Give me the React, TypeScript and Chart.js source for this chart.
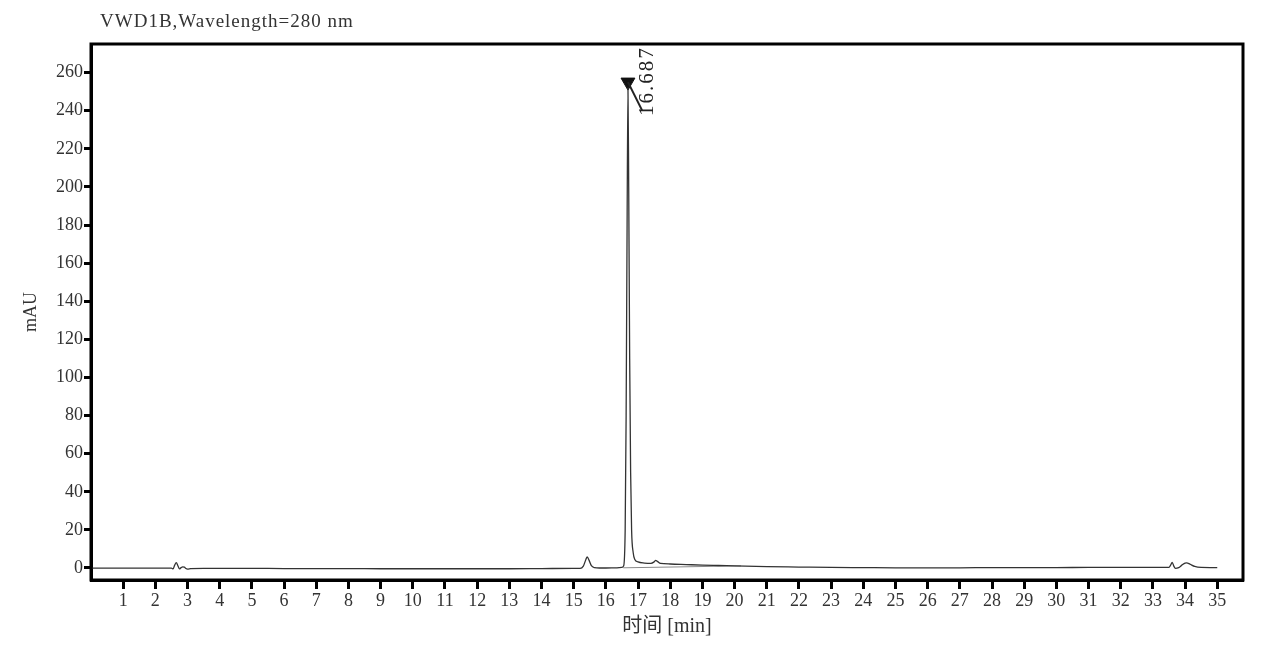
import { useEffect, useRef } from 'react';
import { Chart, registerables } from 'chart.js';

Chart.register(...registerables);

// retention time [min]
const times = [
  0, 0.5, 1, 1.5, 2, 2.5, 2.55, 2.6, 2.65, 2.7, 2.75, 2.8, 2.85, 2.9, 2.95, 3.0, 3.1, 3.5,
  4, 5, 6, 7, 8, 9, 10, 11, 12, 13, 14, 15, 15.2, 15.3, 15.38, 15.42, 15.48, 15.55, 15.65, 15.8,
  16.0, 16.3, 16.5, 16.55, 16.6, 16.63, 16.66, 16.687, 16.71, 16.74, 16.77, 16.8, 16.85, 16.9,
  17.0, 17.2, 17.4, 17.5, 17.55, 17.6, 17.7, 18.0, 18.5, 19.0, 19.5, 20, 21, 22, 23, 24, 25,
  26, 27, 28, 29, 30, 31, 32, 33, 33.5, 33.55, 33.6, 33.65, 33.7, 33.8, 33.9, 34.0, 34.05,
  34.15, 34.3, 34.5, 35.0,
];
// detector signal [mAU]
const signal = [
  -0.1, -0.1, -0.1, -0.1, -0.1, -0.1, -0.5, 1.5, 2.8, 1.2, -0.5, 0.2, 0.6, 0.5, -0.3, -0.6, -0.3, -0.2,
  -0.2, -0.2, -0.3, -0.3, -0.3, -0.4, -0.4, -0.4, -0.4, -0.4, -0.3, -0.2, -0.2, 1.0, 4.5, 5.8, 4.0, 1.2, 0.2, 0.0,
  0.0, 0.1, 0.3, 1.0, 20, 80, 180, 252, 200, 110, 50, 20, 8, 4.5,
  3.2, 2.6, 2.4, 3.2, 4.0, 3.5, 2.4, 2.1, 1.8, 1.5, 1.3, 1.1, 0.7, 0.5, 0.3, 0.2, 0.1,
  0.1, 0.1, 0.2, 0.2, 0.2, 0.3, 0.3, 0.3, 0.3, 1.5, 3.0, 1.0, -0.2, 0.2, 1.5, 2.6, 2.7,
  2.0, 0.8, 0.3, 0.2,
];
// integration baseline under main peak
const baseTimes = [16.54, 20.2];
const baseValues = [0.1, 1.1];

const peakTime = 16.687;
const peakMarker = 255;
const peakLabel = '16.687';

const xTicks = Array.from({ length: 35 }, (_, i) => i + 1);
const yTicks = [0, 20, 40, 60, 80, 100, 120, 140, 160, 180, 200, 220, 240, 260];

const serif = "'Liberation Serif', 'Noto Sans CJK SC', serif";

const decorPlugin = {
  id: 'decor',
  afterDraw(chart: any) {
    const { ctx, chartArea, scales } = chart;
    ctx.save();
    // frame
    ctx.strokeStyle = '#000';
    ctx.lineWidth = 3;
    ctx.strokeRect(chartArea.left, chartArea.top, chartArea.right - chartArea.left, chartArea.bottom - chartArea.top);
    // title
    ctx.fillStyle = '#333';
    ctx.font = `19px ${serif}`;
    (ctx as any).letterSpacing = '1px';
    ctx.textBaseline = 'middle';
    ctx.textAlign = 'left';
    ctx.fillText('VWD1B,Wavelength=280 nm', 100, 22);
    // peak label
    const px = scales.x.getPixelForValue(peakTime);
    const py = scales.y.getPixelForValue(peakMarker);
    ctx.strokeStyle = '#222';
    ctx.lineWidth = 2;
    ctx.beginPath();
    ctx.moveTo(px, py);
    ctx.lineTo(px + 14, py + 28);
    ctx.stroke();
    ctx.translate(px + 20, py + 34);
    ctx.rotate(-Math.PI / 2);
    ctx.font = `21px ${serif}`;
    (ctx as any).letterSpacing = '2px';
    ctx.textAlign = 'left';
    ctx.textBaseline = 'middle';
    ctx.fillStyle = '#222';
    ctx.fillText(peakLabel, 0, 0);
    ctx.restore();
  },
};

export default function App() {
  const canvasRef = useRef<HTMLCanvasElement>(null);
  const chartRef = useRef<Chart | null>(null);

  useEffect(() => {
    document.body.style.margin = '0';
    if (!canvasRef.current) return;
    if (chartRef.current) chartRef.current.destroy();

    const tickFont = { family: serif, size: 18 };
    chartRef.current = new Chart(canvasRef.current, {
      type: 'line',
      data: {
        datasets: [
          {
            data: times.map((t, i) => ({ x: t, y: signal[i] })),
            borderColor: '#333',
            borderWidth: 1.3,
            pointRadius: 0,
            cubicInterpolationMode: 'monotone',
          },
          {
            data: baseTimes.map((t, i) => ({ x: t, y: baseValues[i] })),
            borderColor: '#888',
            borderWidth: 1,
            pointRadius: 0,
          },
          {
            type: 'scatter',
            data: [{ x: peakTime, y: peakMarker }],
            pointStyle: 'triangle',
            rotation: 180,
            pointRadius: 8,
            backgroundColor: '#111',
            borderColor: '#111',
          } as any,
        ],
      },
      options: {
        animation: false,
        responsive: true,
        maintainAspectRatio: false,
        layout: { padding: { top: 44, right: 26, left: 0, bottom: 0 } },
        plugins: { legend: { display: false }, tooltip: { enabled: false } },
        scales: {
          x: {
            type: 'linear',
            min: 0,
            max: 35.8,
            afterBuildTicks: (s: any) => {
              s.ticks = xTicks.map((v) => ({ value: v }));
            },
            afterFit: (s: any) => {
              s.height = 69;
            },
            grid: { display: true, drawOnChartArea: false, tickLength: 9, tickWidth: 3, tickColor: '#000' },
            border: { display: true, width: 3, color: '#000' },
            ticks: { font: tickFont, color: '#333', padding: 1, maxRotation: 0, autoSkip: false },
            title: { display: true, text: '时间 [min]', font: { family: serif, size: 20 }, color: '#333', padding: { top: 0, bottom: 10 } },
          },
          y: {
            min: -6.3,
            max: 275,
            afterBuildTicks: (s: any) => {
              s.ticks = yTicks.map((v) => ({ value: v }));
            },
            afterFit: (s: any) => {
              s.width = 91;
            },
            grid: { display: true, drawOnChartArea: false, tickLength: 7, tickWidth: 3, tickColor: '#000' },
            border: { display: true, width: 3, color: '#000' },
            ticks: { font: tickFont, color: '#333', padding: 1 },
            title: { display: true, text: 'mAU', font: { family: serif, size: 18 }, color: '#333', padding: { top: 20, bottom: 0 } },
          },
        },
      },
      plugins: [decorPlugin],
    });

    return () => {
      if (chartRef.current) {
        chartRef.current.destroy();
        chartRef.current = null;
      }
    };
  }, []);

  return (
    <div style={{ width: 1269, height: 649, position: 'relative' }}>
      <canvas ref={canvasRef} />
    </div>
  );
}
